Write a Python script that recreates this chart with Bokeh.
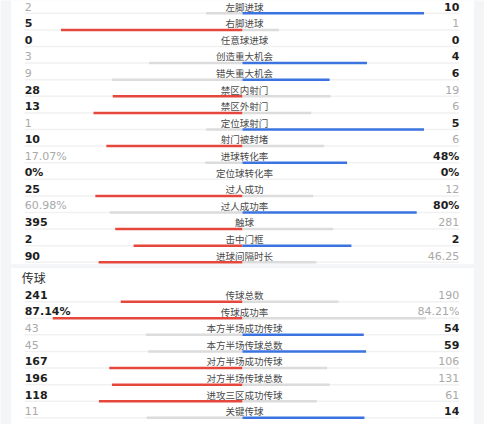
from bokeh.plotting import figure
from bokeh.models import ColumnDataSource, Range1d
from bokeh.core.properties import value
from bokeh.embed import file_html
from bokeh.resources import INLINE

# ---------------- data ----------------
attack_labels = ["左脚进球", "右脚进球", "任意球进球", "创造重大机会", "错失重大机会",
                 "禁区内射门", "禁区外射门", "定位球射门", "射门被封堵", "进球转化率",
                 "定位球转化率", "过人成功", "过人成功率", "触球", "击中门框", "进球间隔时长"]
attack_left = [2, 5, 0, 3, 9, 28, 13, 1, 10, 17.07, 0, 25, 60.98, 395, 2, 90]
attack_right = [10, 1, 0, 4, 6, 19, 6, 5, 6, 48, 0, 12, 80, 281, 2, 46.25]
attack_pct = [False, False, False, False, False, False, False, False, False, True,
              True, False, True, False, False, False]

pass_title = "传球"
pass_labels = ["传球总数", "传球成功率", "本方半场成功传球", "本方半场传球总数",
               "对方半场成功传球", "对方半场传球总数", "进攻三区成功传球", "关键传球"]
pass_left = [241, 87.14, 43, 45, 167, 196, 118, 11]
pass_right = [190, 84.21, 54, 59, 106, 131, 61, 14]
pass_pct = [False, True, False, False, False, False, False, False]

lower_better = ["错失重大机会"]

# ---------------- style ----------------
BG = "#f4f5f7"
RED = "#e5473d"
BLUE = "#3b74e0"
LOSE_BAR = "#dcdcdc"
TRACK = "#f1f1f1"
DARK = "#1e1e1e"
LIGHT = "#a9a9a9"
CENTER = 250
BAR_W = 225
LEFT_X = 25
RIGHT_X = 474
LABEL_X = 252
PITCH = 17.5

p = figure(width=484, height=424, output_backend="svg", toolbar_location=None,
           x_range=Range1d(0, 500), y_range=Range1d(440, -7), min_border=0)
p.axis.visible = False
p.grid.visible = False
p.outline_line_color = None
p.background_fill_color = BG
p.border_fill_color = BG

# cards
p.quad(left=[11, 11], right=[489, 489], top=[-30, 275], bottom=[271, 460],
       fill_color="white", line_color=None)


def fmt(v, pct):
    return f"{v:g}%" if pct else f"{v:g}"


rows = dict(y=[], lbl=[], lt=[], rt=[], lb=[], rb=[], l0=[], r1=[], lbc=[], rbc=[])
for labels, L, R, P, y0 in [(attack_labels, attack_left, attack_right, attack_pct, 0.5),
                            (pass_labels, pass_left, pass_right, pass_pct, 304.5)]:
    for i, (lab, a, b, pc) in enumerate(zip(labels, L, R, P)):
        y = y0 + PITCH * i
        if lab in lower_better:
            lwin, rwin = a <= b, b <= a
        else:
            lwin, rwin = a >= b, b >= a
        if pc:
            la, lb_ = a / 100 * BAR_W, b / 100 * BAR_W
        else:
            tot = a + b
            la = a / tot * BAR_W if tot else 0
            lb_ = b / tot * BAR_W if tot else 0
        rows["y"].append(y)
        rows["lbl"].append(lab)
        rows["lt"].append(fmt(a, pc))
        rows["rt"].append(fmt(b, pc))
        rows["lb"].append(lwin)
        rows["rb"].append(rwin)
        rows["l0"].append(CENTER - la)
        rows["r1"].append(CENTER + lb_)
        rows["lbc"].append(RED if lwin else LOSE_BAR)
        rows["rbc"].append(BLUE if rwin else LOSE_BAR)

ty = [y - 1 for y in rows["y"]]
by = [y + 6 for y in rows["y"]]

# tracks
p.segment(x0=[LEFT_X] * len(by), x1=[RIGHT_X] * len(by), y0=by, y1=by,
          line_color=TRACK, line_width=1.5)

# bars
bars = ColumnDataSource(dict(y=by, l0=rows["l0"], r1=rows["r1"], c=[CENTER] * len(by),
                             lc=rows["lbc"], rc=rows["rbc"]))
p.segment(x0="l0", x1="c", y0="y", y1="y", line_color="lc", line_width=2.5, source=bars)
p.segment(x0="c", x1="r1", y0="y", y1="y", line_color="rc", line_width=2.5, source=bars)

# labels
p.text(x=[LABEL_X] * len(ty), y=ty, text=rows["lbl"], text_align="center",
       text_baseline="middle", text_font=value("Noto Sans CJK SC"), text_font_size="9.5px",
       text_color="#4a4a4a")


# values
def put_vals(texts, flags, x, align):
    for bold in (True, False):
        ys = [y for y, f in zip(ty, flags) if f == bold]
        ts = [t for t, f in zip(texts, flags) if f == bold]
        if not ys:
            continue
        p.text(x=[x] * len(ys), y=ys, text=ts, text_align=align, text_baseline="middle",
               text_font=value("DejaVu Sans"), text_font_size="11px",
               text_font_style="bold" if bold else "normal",
               text_color=DARK if bold else LIGHT)


put_vals(rows["lt"], rows["lb"], LEFT_X, "left")
put_vals(rows["rt"], rows["rb"], RIGHT_X, "right")

# section title
p.text(x=[22], y=[285], text=[pass_title], text_align="left", text_baseline="middle",
       text_font=value("Noto Sans CJK SC"), text_font_size="12px", text_color="#2a2a2a")

open("out.html", "w").write(file_html(p, INLINE))
